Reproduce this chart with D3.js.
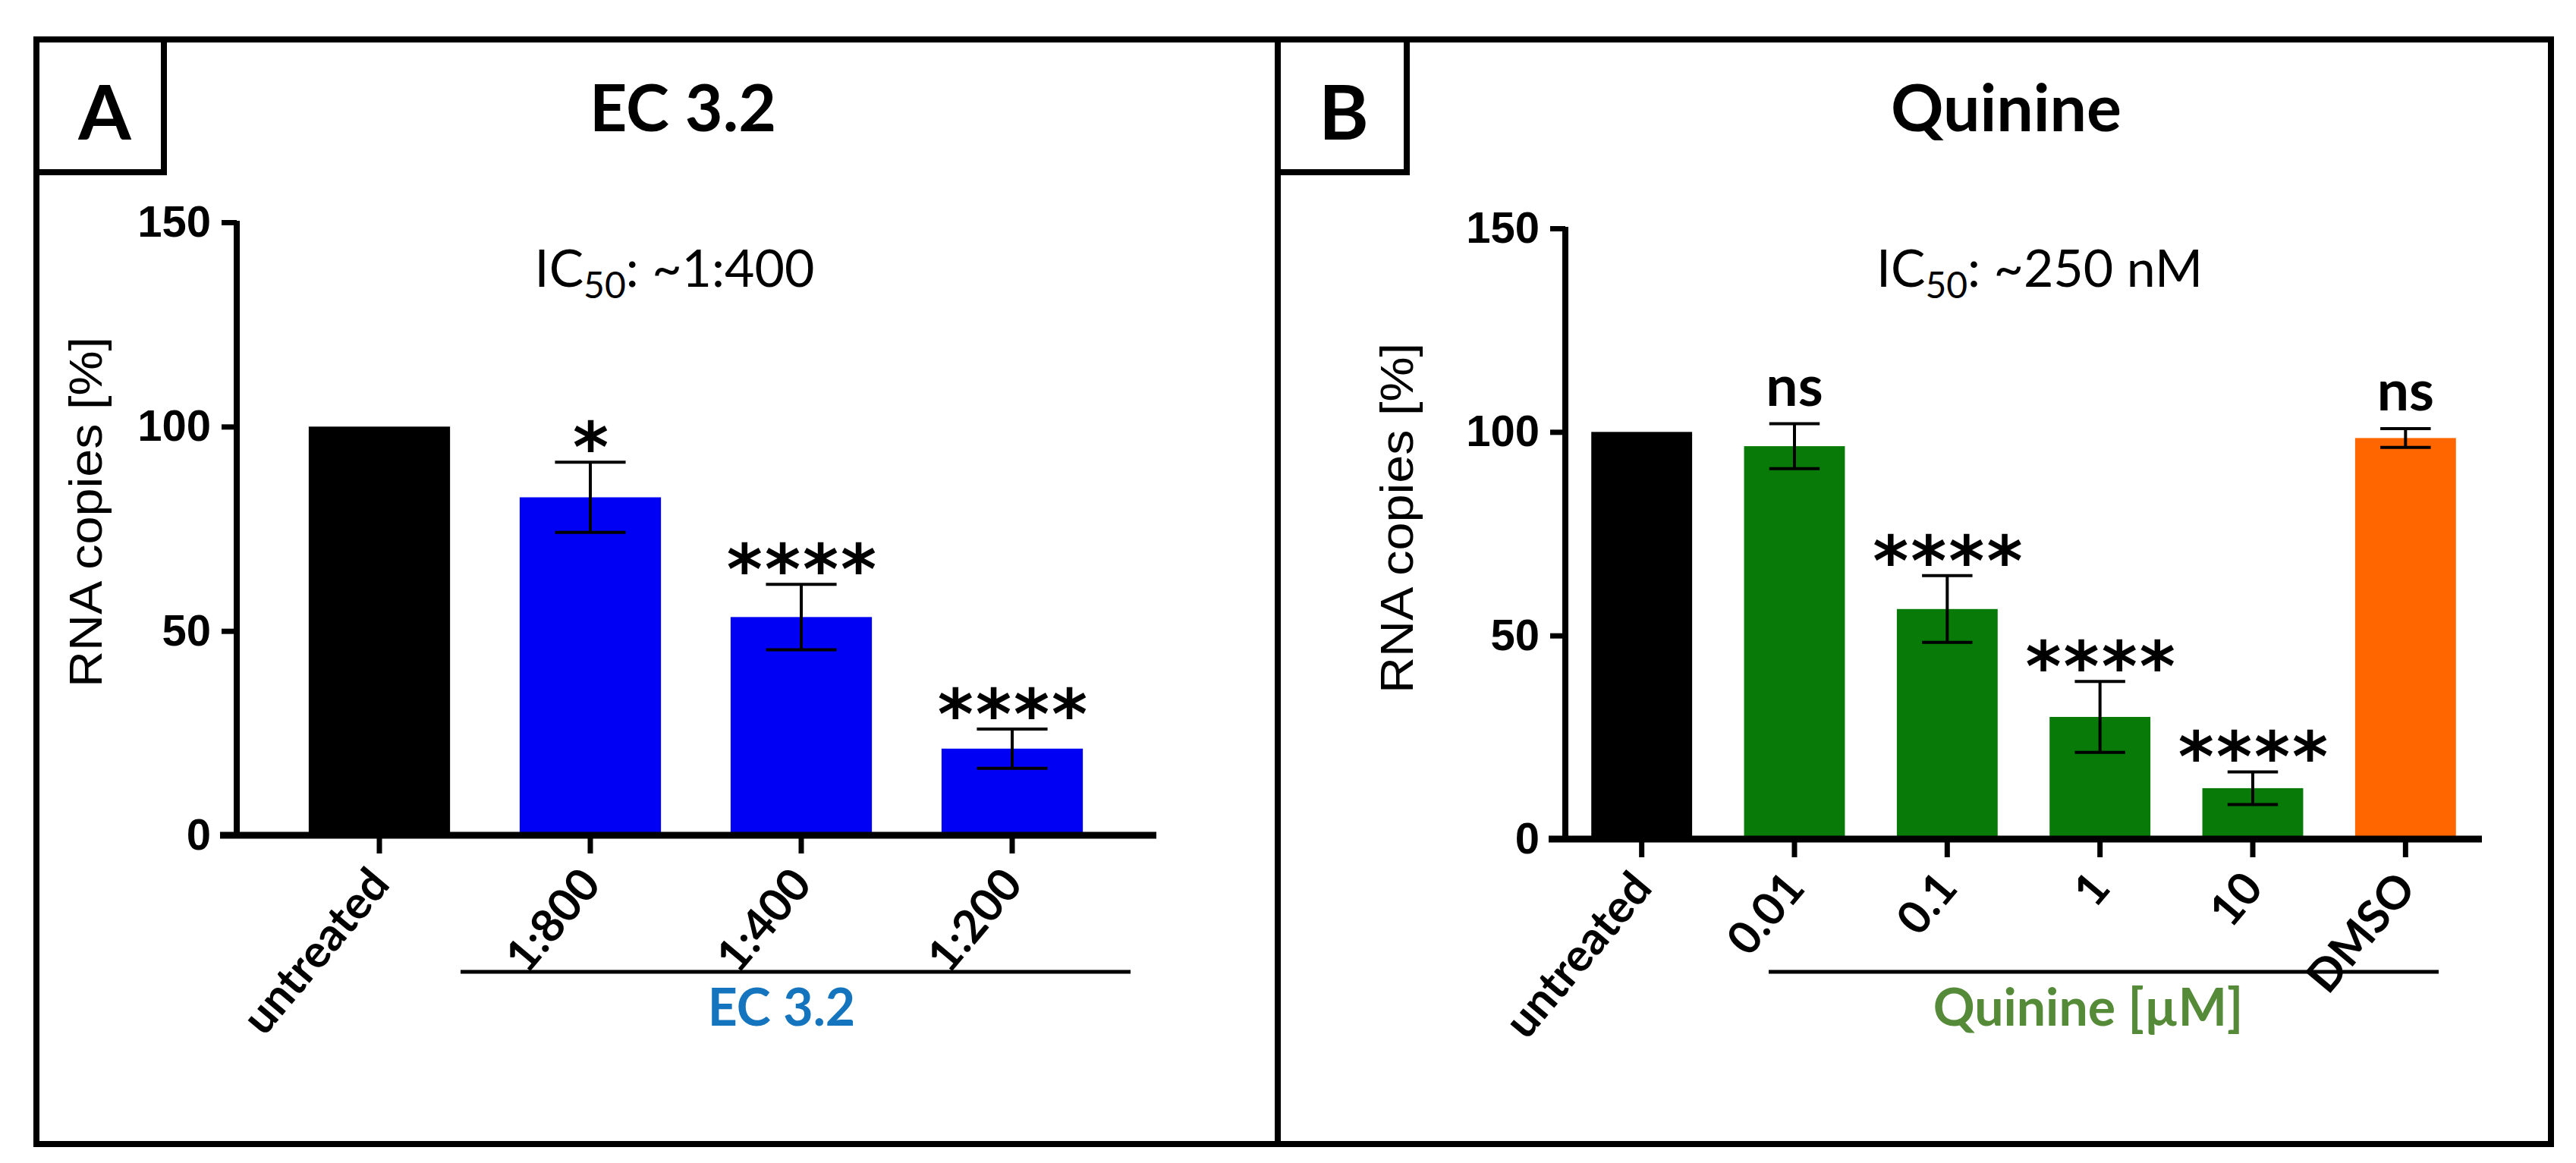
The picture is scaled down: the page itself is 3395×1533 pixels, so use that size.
<!DOCTYPE html>
<html>
<head>
<meta charset="utf-8">
<title>EC 3.2 / Quinine</title>
<script src="https://d3js.org/d3.v7.min.js"></script>
<style>
body { margin: 0; background: #fff; }
</style>
</head>
<body>
<svg width="3395" height="1533"></svg>
<script>
// values
var yTicks = [0, 50, 100, 150];

var catsA = ["untreated", "1:800", "1:400", "1:200"];
var meansA = [100, 82.7, 53.4, 21.2];
var errA = [0, 8.6, 8.0, 4.8];
var sigA = ["", "*", "****", "****"];

var catsB = ["untreated", "0.01", "0.1", "1", "10", "DMSO"];
var meansB = [100, 96.5, 56.5, 30.0, 12.5, 98.5];
var errB = [0, 5.5, 8.2, 8.7, 4.0, 2.3];
var sigB = ["", "ns", "****", "****", "****", "ns"];

var svg = d3.select("svg");

svg.append("rect").attr("width", 3395).attr("height", 1533).attr("fill", "#fff");

// frame + divider + letter boxes
svg.append("rect")
  .attr("x", 48).attr("y", 52).attr("width", 3314).attr("height", 1456)
  .attr("fill", "none").attr("stroke", "#000").attr("stroke-width", 8);
svg.append("line")
  .attr("x1", 1684).attr("x2", 1684).attr("y1", 52).attr("y2", 1508)
  .attr("stroke", "#000").attr("stroke-width", 8);
svg.append("rect")
  .attr("x", 48).attr("y", 52).attr("width", 168).attr("height", 175)
  .attr("fill", "none").attr("stroke", "#000").attr("stroke-width", 8);
svg.append("rect")
  .attr("x", 1684).attr("y", 52).attr("width", 170).attr("height", 175)
  .attr("fill", "none").attr("stroke", "#000").attr("stroke-width", 8);
svg.append("text").attr("x", 138).attr("y", 184).attr("text-anchor", "middle")
  .style("font", "bold 100px Lato").text("A");
svg.append("text").attr("x", 1771).attr("y", 184).attr("text-anchor", "middle")
  .style("font", "bold 100px Lato").text("B");

function panel(p) {
  var data = p.cats.map(function(c, i) {
    return { cat: c, mean: p.means[i], err: p.errs[i], sig: p.sigs[i] };
  });

  var y = d3.scaleLinear().domain([0, 150]).range([p.y0, p.y150]);
  var x = d3.scaleBand().domain(p.cats).range(p.xr)
    .paddingInner(p.pad).paddingOuter(p.pad / 2);
  var col = d3.scaleOrdinal().domain(p.cats).range(p.colors);
  var bw = x.bandwidth();

  var g = svg.append("g");

  // title
  g.append("text").attr("x", p.titleX).attr("y", 173).attr("text-anchor", "middle")
    .style("font", "bold 86px Lato").text(p.title);

  // IC50 note
  var ic = g.append("text").attr("x", p.icX).attr("y", 378).attr("text-anchor", "middle")
    .style("font", "68px Lato");
  ic.append("tspan").text("IC");
  ic.append("tspan").attr("dy", 15).style("font-size", "48px").text("50");
  ic.append("tspan").attr("dy", -15).text(p.ic);

  // bars
  g.selectAll("rect.bar").data(data).enter().append("rect")
    .attr("class", "bar")
    .attr("x", function(d) { return x(d.cat); })
    .attr("width", bw)
    .attr("y", function(d) { return y(d.mean); })
    .attr("height", function(d) { return y(0) - y(d.mean); })
    .attr("fill", function(d) { return col(d.cat); });

  // error bars
  var eb = g.selectAll("g.err").data(data.filter(function(d) { return d.err > 0; }))
    .enter().append("g").attr("class", "err")
    .attr("stroke", "#000").attr("stroke-width", 4);
  eb.append("line")
    .attr("x1", function(d) { return x(d.cat) + bw / 2; })
    .attr("x2", function(d) { return x(d.cat) + bw / 2; })
    .attr("y1", function(d) { return y(d.mean - d.err); })
    .attr("y2", function(d) { return y(d.mean + d.err); });
  eb.append("line")
    .attr("x1", function(d) { return x(d.cat) + bw / 4; })
    .attr("x2", function(d) { return x(d.cat) + bw * 3 / 4; })
    .attr("y1", function(d) { return y(d.mean + d.err); })
    .attr("y2", function(d) { return y(d.mean + d.err); });
  eb.append("line")
    .attr("x1", function(d) { return x(d.cat) + bw / 4; })
    .attr("x2", function(d) { return x(d.cat) + bw * 3 / 4; })
    .attr("y1", function(d) { return y(d.mean - d.err); })
    .attr("y2", function(d) { return y(d.mean - d.err); });

  // significance marks
  g.selectAll("text.sig").data(data.filter(function(d) { return d.sig != ""; }))
    .enter().append("text").attr("class", "sig")
    .attr("text-anchor", "middle")
    .attr("x", function(d) { return x(d.cat) + bw / 2 + (d.sig == "ns" ? 0 : 2); })
    .attr("y", function(d) { return y(d.mean + d.err) - (d.sig == "ns" ? 24 : -12); })
    .style("font", function(d) { return d.sig == "ns" ? "bold 75px Lato" : "bold 90px 'DejaVu Sans'"; })
    .style("letter-spacing", function(d) { return d.sig == "ns" ? "0px" : "3px"; })
    .text(function(d) { return d.sig; });

  // y axis
  var ya = g.append("g").attr("transform", "translate(" + p.ax + ",0)")
    .call(d3.axisLeft(y).tickValues(yTicks).tickSize(20).tickSizeOuter(0).tickPadding(14));
  ya.select(".domain").attr("stroke-width", 8).attr("d", "M0," + (y(0) + 4) + "V" + (y(150) - 2));
  ya.selectAll(".tick line").attr("stroke-width", 7);
  ya.selectAll(".tick text").style("font", "bold 58px 'Liberation Sans'").attr("fill", "#000");

  g.append("text")
    .attr("transform", "translate(" + p.ylx + "," + p.yly + ") rotate(-90)")
    .attr("text-anchor", "middle")
    .attr("textLength", 462).attr("lengthAdjust", "spacingAndGlyphs")
    .style("font", "62px 'Liberation Sans'")
    .text("RNA copies [%]");

  // x axis
  g.append("line").attr("x1", p.xl[0]).attr("x2", p.xl[1])
    .attr("y1", y(0)).attr("y2", y(0))
    .attr("stroke", "#000").attr("stroke-width", 9);
  var xa = g.append("g").attr("transform", "translate(0," + y(0) + ")")
    .call(d3.axisBottom(x).tickSize(24).tickSizeOuter(0));
  xa.select(".domain").remove();
  xa.selectAll(".tick line").attr("stroke-width", 7);
  xa.selectAll(".tick text")
    .attr("x", 0).attr("y", 0).attr("dy", 0)
    .attr("text-anchor", "end")
    .attr("transform", "translate(16,66) rotate(-50)")
    .attr("fill", "#000")
    .style("font", "bold 60px Lato");

  // group bracket
  g.append("line").attr("x1", p.gl[0]).attr("x2", p.gl[1])
    .attr("y1", 1281).attr("y2", 1281)
    .attr("stroke", "#000").attr("stroke-width", 5);
  g.append("text").attr("x", p.glx).attr("y", 1352).attr("text-anchor", "middle")
    .attr("fill", p.gcol)
    .style("font", "bold 68px Lato").text(p.group);
}

panel({
  cats: catsA, means: meansA, errs: errA, sigs: sigA,
  colors: ["#000000", "#0000f5", "#0000f5", "#0000f5"],
  y0: 1101, y150: 293, xr: [361, 1473], pad: 0.33, ax: 312, xl: [290, 1524],
  title: "EC 3.2", titleX: 900, ic: ": ~1:400", icX: 889,
  ylx: 134, yly: 675, gl: [607, 1490], glx: 1030, group: "EC 3.2", gcol: "#1474be"
});

panel({
  cats: catsB, means: meansB, errs: errB, sigs: sigB,
  colors: ["#000000", "#077a07", "#077a07", "#077a07", "#077a07", "#ff6600"],
  y0: 1106, y150: 301, xr: [2063, 3271], pad: 0.34, ax: 2063, xl: [2041, 3271],
  title: "Quinine", titleX: 2644, ic: ": ~250 nM", icX: 2688,
  ylx: 1862, yly: 683, gl: [2331, 3214], glx: 2752, group: "Quinine [\u00b5M]", gcol: "#558a38"
});
</script>
</body>
</html>
